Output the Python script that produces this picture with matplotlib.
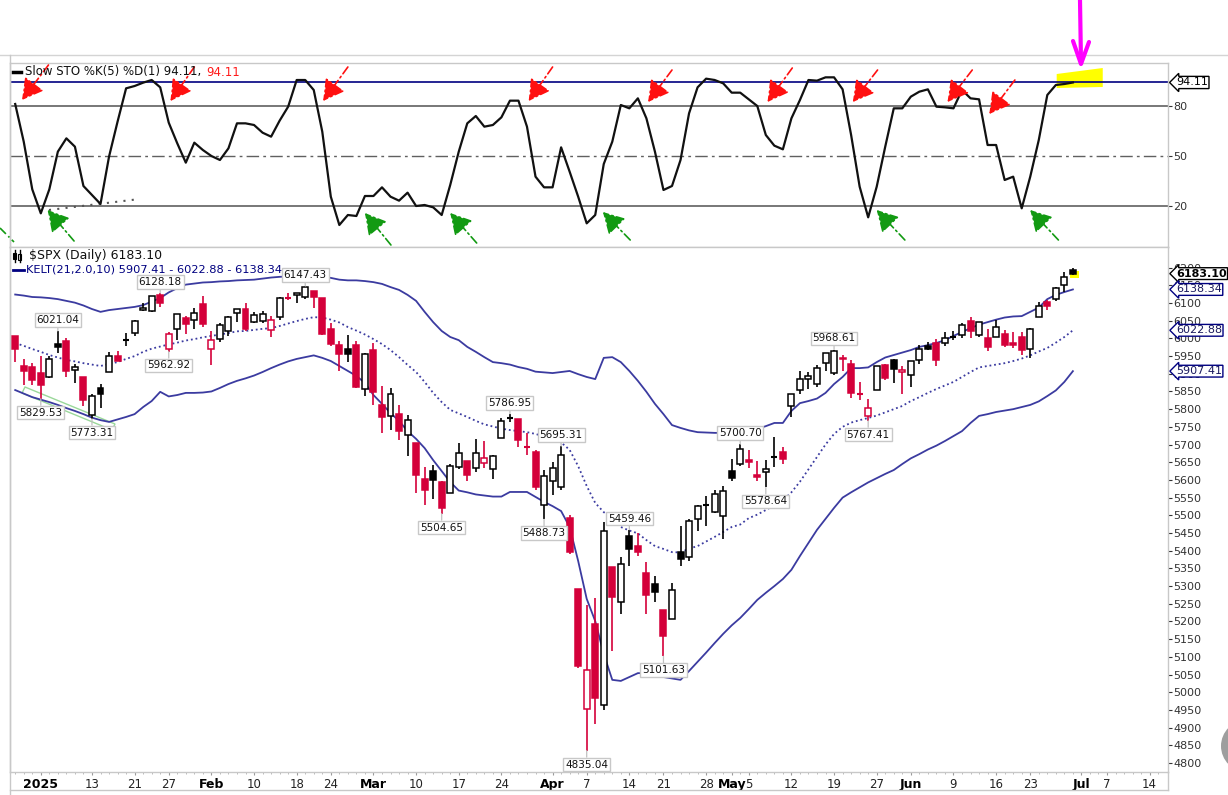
import matplotlib
matplotlib.use("Agg")
import matplotlib.pyplot as plt
from matplotlib.patches import Rectangle, Polygon, Circle
from matplotlib.lines import Line2D
from matplotlib.transforms import IdentityTransform
import numpy as np
import pandas as pd

W, H = 1228, 795

# trading days, Dec 27 2024 -> Jun 30 2025 (plus a few future July days for the axis)
holidays = ["2025-01-01", "2025-01-09", "2025-01-20", "2025-02-17",
            "2025-04-18", "2025-05-26", "2025-06-19", "2025-07-04"]
days = pd.bdate_range("2024-12-27", "2025-07-18", freq="C", holidays=holidays)
days = [d.strftime("%Y-%m-%d") for d in days]

opens = [6006.17, 5920.67, 5919.74,
         5903.26, 5891.07, 5982.81, 5993.26, 5910.66, 5890.66, 5782.23, 5859.17, 5905.21, 5950.12,
         5995.53, 6014.12, 6081.39, 6076.32, 6121.43, 5969.04, 6026.97, 6057.70, 6050.75, 6096.79,
         5969.65, 5998.14, 6020.45, 6072.22, 6083.13, 6046.40, 6049.32, 6025.08, 6060.59, 6115.52,
         6121.60, 6117.76, 6134.50, 6114.10, 6026.69, 5982.73, 5970.87, 5981.88, 5856.74,
         5968.33, 5811.98, 5781.38, 5785.87, 5726.01, 5705.37, 5603.65, 5624.84, 5594.45, 5563.85,
         5635.60, 5654.53, 5632.37, 5646.92, 5630.73, 5718.08, 5775.86, 5771.66, 5695.64, 5679.68, 5527.91,
         5597.53, 5580.76, 5492.74, 5292.14, 4953.79, 5193.57, 4965.28, 5353.15, 5255.56, 5441.96,
         5411.99, 5335.75, 5305.45, 5232.94, 5207.67, 5395.93, 5381.38, 5489.73, 5529.22, 5508.87, 5499.44,
         5625.14, 5645.23, 5655.32, 5613.03, 5621.70, 5663.00, 5679.55, 5807.67, 5854.23, 5886.55,
         5869.88, 5929.09, 5902.88, 5944.66, 5928.48, 5841.26, 5781.89, 5854.07, 5925.52, 5939.92, 5903.67,
         5896.68, 5938.56, 5978.94, 5985.67, 5987.06, 6004.60, 6009.91, 6049.38, 6009.90, 6000.56,
         6004.00, 6012.15, 5987.93, 6004.28, 5969.67, 6061.21, 6104.18, 6112.10, 6150.70, 6193.36]
highs = [6006.17, 5940.79, 5929.74,
         5949.34, 5949.34, 6021.04, 6000.68, 5927.89, 5890.66, 5842.22, 5871.92, 5960.61, 5964.69,
         6014.96, 6051.51, 6100.81, 6118.73, 6128.18, 6017.17, 6069.80, 6062.83, 6086.64, 6120.91,
         6022.13, 6042.48, 6062.86, 6084.03, 6101.28, 6073.38, 6076.28, 6063.00, 6116.91, 6127.47,
         6129.63, 6147.43, 6134.50, 6114.82, 6043.65, 5992.65, 6009.82, 5993.69, 5959.40,
         5986.09, 5865.08, 5860.59, 5812.08, 5783.01, 5705.37, 5636.30, 5642.19, 5597.78, 5645.27,
         5703.52, 5654.53, 5715.33, 5711.15, 5670.84, 5775.14, 5786.95, 5771.66, 5732.28, 5685.89, 5627.56,
         5650.57, 5695.31, 5500.41, 5292.14, 5246.57, 5267.47, 5481.34, 5353.15, 5381.46, 5459.46,
         5450.41, 5367.24, 5328.31, 5232.94, 5309.59, 5469.69, 5489.40, 5528.11, 5553.66, 5571.95, 5581.84,
         5658.91, 5700.70, 5683.29, 5654.05, 5654.97, 5720.10, 5691.68, 5844.19, 5906.63, 5904.00,
         5924.01, 5958.62, 5968.61, 5953.06, 5938.37, 5878.08, 5829.51, 5922.21, 5929.00, 5943.13, 5922.14,
         5937.40, 5981.35, 5990.48, 5999.70, 6016.87, 6021.31, 6043.01, 6059.40, 6045.43, 6026.16,
         6050.83, 6023.25, 6018.25, 6018.20, 6028.81, 6101.80, 6108.51, 6146.52, 6187.68, 6199.00]
lows = [5932.95, 5869.16, 5868.86,
        5829.53, 5888.66, 5960.01, 5890.68, 5874.78, 5809.83, 5773.31, 5802.44, 5903.63, 5935.86,
        5978.44, 6006.88, 6076.13, 6074.67, 6088.74, 5962.92, 5994.32, 6012.96, 6027.46, 6030.93,
        5923.93, 5990.87, 6007.06, 6046.83, 6019.96, 6044.84, 6042.34, 6003.00, 6051.95, 6107.62,
        6099.51, 6111.15, 6084.59, 6008.56, 5977.83, 5908.49, 5932.69, 5858.78, 5837.66,
        5810.91, 5732.59, 5742.35, 5711.64, 5666.29, 5564.02, 5528.41, 5546.09, 5504.65, 5563.85,
        5631.12, 5597.76, 5622.20, 5632.79, 5603.10, 5718.08, 5764.38, 5694.41, 5670.94, 5572.42, 5488.73,
        5558.52, 5571.48, 5390.83, 5069.90, 4835.04, 4910.42, 4948.43, 5115.27, 5220.77, 5358.02,
        5386.44, 5220.79, 5255.58, 5101.63, 5207.67, 5356.19, 5371.96, 5455.86, 5468.64, 5505.70, 5433.24,
        5597.35, 5640.16, 5634.48, 5597.56, 5578.64, 5635.34, 5644.95, 5777.98, 5843.61, 5856.29,
        5861.50, 5907.28, 5895.69, 5909.26, 5830.91, 5825.82, 5767.41, 5854.07, 5881.49, 5874.96, 5843.66,
        5861.43, 5929.00, 5966.11, 5921.20, 5978.63, 5994.18, 6000.25, 6002.32, 6003.88, 5963.21,
        6004.00, 5974.80, 5971.89, 5952.56, 5943.23, 6060.85, 6080.23, 6107.07, 6132.35, 6177.97]
closes = [5970.84, 5906.94, 5881.63,
          5868.55, 5942.47, 5975.38, 5909.03, 5918.25, 5827.04, 5836.22, 5842.91, 5949.91, 5937.34,
          5996.66, 6049.24, 6086.37, 6118.71, 6101.24, 6012.28, 6067.70, 6039.31, 6071.17, 6040.53,
          5994.57, 6037.88, 6061.48, 6083.57, 6025.99, 6066.44, 6068.50, 6051.97, 6115.07, 6114.63,
          6129.58, 6144.15, 6117.52, 6013.13, 5983.25, 5955.25, 5956.06, 5861.57, 5954.50,
          5849.72, 5778.15, 5842.63, 5738.52, 5770.20, 5614.56, 5572.07, 5599.30, 5521.52, 5638.94,
          5675.12, 5614.66, 5675.29, 5662.89, 5667.56, 5767.57, 5776.65, 5712.20, 5693.31, 5580.94, 5611.85,
          5633.07, 5670.97, 5396.52, 5074.08, 5062.25, 4982.77, 5456.90, 5268.05, 5363.36, 5405.97,
          5396.63, 5275.70, 5282.70, 5158.20, 5287.76, 5375.86, 5484.77, 5525.21, 5528.75, 5560.83, 5569.06,
          5604.14, 5686.67, 5650.38, 5606.91, 5631.28, 5663.94, 5659.91, 5844.19, 5886.55, 5892.58,
          5916.93, 5958.38, 5963.60, 5940.46, 5844.61, 5842.01, 5802.82, 5921.54, 5888.55, 5912.17, 5911.69,
          5935.94, 5970.37, 5970.81, 5939.30, 6000.36, 6005.88, 6038.81, 6022.24, 6045.26, 5976.97,
          6033.11, 5982.72, 5980.87, 5967.84, 6025.17, 6092.18, 6092.16, 6141.02, 6173.07, 6183.10]
prev_close_first = 6037.59

kelt_upper = [6124, 6121, 6117, 6116, 6114, 6111, 6106, 6101, 6093, 6083, 6075, 6080, 6083,
              6086, 6089, 6094, 6104, 6114, 6130, 6142, 6152, 6155, 6158,
              6159, 6161, 6162, 6164, 6165, 6166, 6169, 6172, 6174, 6175,
              6176, 6176, 6176, 6175, 6171, 6166, 6164, 6164, 6162, 6159,
              6154, 6145, 6137, 6123, 6106, 6075, 6046, 6021, 6004, 5995,
              5976, 5962, 5947, 5933, 5930, 5926, 5919, 5914, 5906, 5904,
              5902, 5905, 5908, 5899, 5891, 5885, 5945, 5947, 5933, 5908,
              5880, 5849, 5815, 5786, 5755, 5747, 5740, 5735, 5734, 5733,
              5733, 5733, 5733, 5738, 5744, 5752, 5761, 5761, 5795, 5817,
              5823, 5830, 5846, 5871, 5891, 5916, 5916, 5918, 5933, 5946,
              5953, 5960, 5967, 5976, 5981, 5987, 5995, 6007, 6018, 6029,
              6039, 6046, 6053, 6059, 6062, 6063, 6075, 6087, 6111, 6123,
              6131, 6138.34]
kelt_mid = [5987, 5979, 5970, 5962, 5953, 5946, 5939, 5935, 5930, 5926, 5922, 5928, 5933,
            5942, 5950, 5962, 5971, 5977, 5983, 5988, 5994, 5998, 6003,
            6007, 6011, 6015, 6020, 6021, 6024, 6027, 6029, 6035, 6042,
            6049, 6055, 6060, 6059, 6053, 6045, 6032, 6022, 6011, 5998,
            5984, 5967, 5947, 5925, 5905, 5877, 5846, 5820, 5798, 5788,
            5778, 5767, 5757, 5751, 5745, 5741, 5738, 5735, 5730, 5723,
            5716, 5706, 5685, 5639, 5583, 5535, 5509, 5490, 5467, 5457,
            5449, 5430, 5413, 5405, 5396, 5395, 5406, 5413, 5426, 5439,
            5453, 5467, 5474, 5492, 5502, 5515, 5528, 5542, 5565, 5595,
            5630, 5665, 5700, 5730, 5750, 5762, 5769, 5775, 5782, 5791,
            5800, 5809, 5823, 5834, 5846, 5857, 5867, 5877, 5891, 5905,
            5918, 5922, 5926, 5930, 5936, 5943, 5952, 5963, 5973, 5988,
            6004, 6022.88]
kelt_lower = [5854, 5844, 5834, 5827, 5820, 5812, 5803, 5795, 5786, 5776, 5769, 5764, 5771,
              5778, 5786, 5806, 5823, 5849, 5836, 5840, 5846, 5846, 5847,
              5850, 5860, 5871, 5880, 5887, 5895, 5905, 5916, 5926, 5935,
              5942, 5947, 5952, 5945, 5936, 5922, 5908, 5894, 5874, 5840,
              5815, 5789, 5767, 5738, 5716, 5690, 5656, 5625, 5594, 5570,
              5565, 5559, 5556, 5553, 5553, 5566, 5566, 5566, 5552, 5538,
              5526, 5512, 5467, 5371, 5264, 5201, 5108, 5035, 5032, 5043,
              5054, 5054, 5047, 5043, 5039, 5035, 5060, 5086, 5112, 5139,
              5165, 5189, 5210, 5235, 5261, 5281, 5300, 5320, 5346, 5385,
              5422, 5459, 5490, 5521, 5550, 5565, 5579, 5593, 5605, 5617,
              5628, 5645, 5661, 5673, 5686, 5697, 5710, 5724, 5738, 5761,
              5781, 5786, 5792, 5796, 5800, 5806, 5812, 5822, 5837, 5853,
              5877, 5907.41]

sto_k = [81.2, 58.6, 30.0, 15.6, 30.0, 52.6, 60.6, 55.6, 32.0, 26.6, 21.2, 49.6, 70.6,
         90.6, 92.0, 94.0, 95.6, 91.2, 70.0, 57.6, 46.0, 58.0, 53.6,
         50.0, 47.6, 54.6, 69.6, 69.6, 68.6, 64.0, 61.6, 71.2, 79.6,
         95.6, 95.6, 89.6, 64.6, 25.6, 8.6, 14.6, 14.0, 26.0, 26.0,
         31.2, 25.6, 23.2, 28.0, 20.0, 20.6, 19.2, 14.6, 32.6, 52.6,
         69.6, 74.0, 67.6, 68.6, 73.2, 83.2, 83.2, 67.6, 37.6, 31.2,
         31.2, 55.2, 40.6, 25.6, 9.6, 14.6, 45.2, 58.6, 80.6, 78.6,
         84.6, 72.6, 52.6, 29.6, 32.0, 47.6, 75.6, 91.2, 96.4, 95.6,
         93.6, 88.0, 88.0, 84.0, 80.0, 62.6, 56.2, 54.0, 72.6, 83.6,
         95.6, 95.2, 97.2, 97.2, 90.0, 62.6, 31.6, 13.2, 31.6, 55.6,
         78.6, 78.6, 85.6, 88.6, 90.0, 79.6, 79.2, 78.6, 89.6, 84.6,
         84.0, 56.6, 56.6, 35.6, 37.6, 18.6, 37.6, 59.6, 86.6, 92.6,
         93.2, 94.11]

# callout labels on the price chart
label_dates = ["2025-01-06", "2025-01-02", "2025-01-13", "2025-01-24", "2025-01-27", "2025-02-19",
               "2025-03-25", "2025-04-02", "2025-03-13", "2025-03-31", "2025-04-14", "2025-04-07",
               "2025-04-21", "2025-05-02", "2025-05-07", "2025-05-19", "2025-05-23"]
label_values = [6021.04, 5829.53, 5773.31, 6128.18, 5962.92, 6147.43,
                5786.95, 5695.31, 5504.65, 5488.73, 5459.46, 4835.04,
                5101.63, 5700.70, 5578.64, 5968.61, 5767.41]
label_above = [True, False, False, True, False, True,
               True, True, False, False, True, False,
               False, True, False, True, False]

tick_dates = ["2025-01-02", "2025-01-13", "2025-01-21", "2025-01-27", "2025-02-03", "2025-02-10",
              "2025-02-18", "2025-02-24", "2025-03-03", "2025-03-10", "2025-03-17", "2025-03-24",
              "2025-04-01", "2025-04-07", "2025-04-14", "2025-04-21", "2025-04-28", "2025-05-01",
              "2025-05-05", "2025-05-12", "2025-05-19", "2025-05-27", "2025-06-02", "2025-06-09",
              "2025-06-16", "2025-06-23", "2025-07-01", "2025-07-07", "2025-07-14"]
tick_labels = ["2025", "13", "21", "27", "Feb", "10", "18", "24", "Mar", "10", "17", "24",
               "Apr", "7", "14", "21", "28", "May", "5", "12", "19", "27", "Jun", "9",
               "16", "23", "Jul", "7", "14"]
bold_labels = ["2025", "Feb", "Mar", "Apr", "May", "Jun", "Jul"]

RED = "#d4003a"
NAVY = "#000080"
KCOL = "#3b3ba0"

n = len(closes)
xs = np.arange(n) - 3
xpos = {d: i - 3 for i, d in enumerate(days)}


def px(x, y):
    # figure pixel (top-left origin) -> display coords
    return x, H - y


def pix_line(xl, yl, **kw):
    pts = [px(a, b) for a, b in zip(xl, yl)]
    ln = Line2D([p[0] for p in pts], [p[1] for p in pts], transform=IdentityTransform(), **kw)
    fig.add_artist(ln)


fig = plt.figure(figsize=(W / 100, H / 100), dpi=100)
ax_sto = fig.add_axes([10 / W, 1 - 247 / H, 1158 / W, 184 / H])
ax = fig.add_axes([10 / W, 1 - 772 / H, 1158 / W, 525 / H], sharex=ax_sto)

# ---------------- stochastic panel ----------------
ax_sto.axhline(80, color="#606060", lw=1.2, zorder=2)
ax_sto.axhline(20, color="#606060", lw=1.2, zorder=2)
ax_sto.axhline(50, color="#606060", lw=1.0, ls=(0, (9, 3, 2, 3)), zorder=2)
ax_sto.axhline(94.11, color=NAVY, lw=1.2, zorder=2)
ax_sto.add_patch(Polygon([(119.1, 99.2), (124.5, 102.8), (124.5, 91.4), (119.1, 90.8)],
                         closed=True, fc="#ffff00", ec="none", zorder=1))
ax_sto.plot(xs, sto_k, color="#111111", lw=1.6, zorder=4)
ax_sto.plot([0.96, 11.6], [17.6, 24.2], color="#555555", lw=1.5, ls=(0, (1, 3)), zorder=3)

red_arrows = [((-2.2, 83.6), (0.9, 104.6)), ((15.2, 83.0), (18.0, 103.4)),
              ((33.1, 83.0), (36.0, 103.4)), ((57.2, 83.0), (60.0, 103.4)),
              ((71.2, 82.4), (74.0, 101.6)), ((85.2, 82.4), (88.1, 102.8)),
              ((95.2, 82.4), (98.1, 101.6)), ((106.3, 82.4), (109.2, 101.6)),
              ((111.2, 75.2), (114.2, 95.6))]
green_arrows = [((0.8, 17.6), (3.9, -1.0)), ((38.0, 15.8), (41.05, -3.4)),
                ((48.0, 15.8), (51.1, -2.2)), ((65.9, 16.4), (69.1, -0.4)),
                ((98.0, 17.6), (101.3, -0.4)), ((116.0, 17.6), (119.3, -0.4))]
for tip, tail in red_arrows:
    ax_sto.annotate("", xy=tip, xytext=tail,
                    arrowprops=dict(arrowstyle="-|>,head_length=0.8,head_width=0.45", color="#ff1010",
                                    lw=1.2, linestyle=(0, (5, 2, 1, 2)), mutation_scale=16,
                                    shrinkA=0, shrinkB=0), zorder=5)
for tip, tail in green_arrows:
    ax_sto.annotate("", xy=tip, xytext=tail,
                    arrowprops=dict(arrowstyle="-|>,head_length=0.8,head_width=0.45", color="#129a12",
                                    lw=1.2, linestyle=(0, (5, 2, 1, 2)), mutation_scale=16,
                                    shrinkA=0, shrinkB=0), zorder=5)

ax_sto.set_ylim(-4.6, 105.8)
ax_sto.set_yticks([20, 50, 80])
ax_sto.yaxis.tick_right()
ax_sto.tick_params(axis="y", direction="out", length=3, pad=1, labelsize=8, colors="#333333")
ax_sto.tick_params(axis="x", which="both", length=0, labelbottom=False)
ax_sto.annotate("94.11", xy=(1, 94.11), xycoords=("axes fraction", "data"), xytext=(8, 0),
                textcoords="offset pixels", va="center", ha="left", fontsize=8, color="black",
                bbox=dict(boxstyle="larrow,pad=0.1", fc="white", ec="black", lw=1),
                annotation_clip=False, zorder=6)

# ---------------- price panel ----------------
ax.plot(xs, kelt_upper, color=KCOL, lw=1.3, zorder=2)
ax.plot(xs, kelt_lower, color=KCOL, lw=1.3, zorder=2)
ax.plot(xs, kelt_mid, color=KCOL, lw=1.3, ls=(0, (1, 1.6)), zorder=2)

ax.add_patch(Polygon([(-1.85, 5862.6), (8.70, 5758.1), (8.35, 5741.1), (-2.20, 5845.7)],
                     closed=True, fill=False, ec="#9ad89a", lw=1, zorder=1))
ax.add_patch(Rectangle((120.7, 6169.8), 1.0, 21.4, fc="#ffff00", ec="none", zorder=1))

bw = 0.7
for i in range(n):
    o, h, l, c = opens[i], highs[i], lows[i], closes[i]
    pc = prev_close_first if i == 0 else closes[i - 1]
    col = "black" if c >= pc else RED
    filled = c < o
    x = xs[i]
    ax.vlines(x, l, h, color=col, lw=1.2, zorder=3)
    lo, hi = min(o, c), max(o, c)
    if hi - lo < 2.5:
        ax.hlines((o + c) / 2, x - bw / 2, x + bw / 2, color=col, lw=1.5, zorder=4)
    else:
        ax.add_patch(Rectangle((x - bw / 2, lo), bw, hi - lo, fc=col if filled else "white",
                               ec=col, lw=1.1, zorder=4))

for d, v, up in zip(label_dates, label_values, label_above):
    ax.annotate(f"{v:.2f}", xy=(xpos[d], v), xytext=(0, 8 if up else -10),
                textcoords="offset points", ha="center", va="center", fontsize=7.5, color="#111111",
                bbox=dict(boxstyle="square,pad=0.18", fc="white", ec="#c8c8c8", lw=1),
                arrowprops=dict(arrowstyle="-", color="#c0c0c0", lw=0.9, shrinkA=0, shrinkB=0),
                zorder=6)

ax.set_ylim(4774.6, 6258.3)
ax.set_xlim(-3.61, 132.15)
ax.set_yticks(range(4800, 6201, 50))
ax.yaxis.tick_right()
ax.tick_params(axis="y", direction="out", length=3, pad=1, labelsize=8, colors="#333333")

tags = [(6183.10, "black", "black", "bold"), (6138.34, NAVY, "#1a1a5e", "normal"),
        (6022.88, NAVY, "#1a1a5e", "normal"), (5907.41, NAVY, "#1a1a5e", "normal")]
for v, ec, tc, fw in tags:
    ax.annotate(f"{v:.2f}", xy=(1, v), xycoords=("axes fraction", "data"), xytext=(8, 0),
                textcoords="offset pixels", va="center", ha="left", fontsize=8, color=tc,
                fontweight=fw, bbox=dict(boxstyle="larrow,pad=0.08", fc="white", ec=ec, lw=1),
                annotation_clip=False, zorder=6)

ax.set_xticks([xpos[d] for d in tick_dates])
ax.set_xticklabels(tick_labels)
ax.set_xticks(np.arange(-3, 132), minor=True)
ax.tick_params(axis="x", which="major", direction="out", length=2, pad=2, labelsize=8.5,
               colors="#9a9a9a", labelcolor="#222222")
ax.tick_params(axis="x", which="minor", direction="out", length=1.5, colors="#b0b0b0")
for t in ax.get_xticklabels():
    if t.get_text() in bold_labels:
        t.set_fontweight("bold")
        t.set_fontsize(9)
        t.set_color("black")

for a in (ax, ax_sto):
    for s in a.spines.values():
        s.set_color("#c8c8c8")
        s.set_linewidth(1)

# ---------------- frame, legends, hand drawn marks ----------------
pix_line([0, 1228], [55, 55], color="#d4d4d4", lw=1)
pix_line([10, 10], [55, 795], color="#c8c8c8", lw=1)
pix_line([10, 1168], [790, 790], color="#c8c8c8", lw=1)
pix_line([1168, 1168], [772, 790], color="#c8c8c8", lw=1)

pix_line([13, 21], [72, 72], color="black", lw=2.5)
t1 = fig.text(25 / W, 1 - 72 / H, "Slow STO %K(5) %D(1) 94.11,", fontsize=8.5, va="center",
              color="#111111")
fig.canvas.draw()
bb = t1.get_window_extent(renderer=fig.canvas.get_renderer())
fig.text((bb.x1 + 5) / W, 1 - 72 / H, "94.11", fontsize=8.5, va="center", color="#ff1a1a")

# small candle icon
pix_line([14.5, 14.5], [250, 262], color="black", lw=1)
fig.add_artist(Rectangle(px(13, 259), 3, 6, transform=IdentityTransform(), fc="black", ec="black", lw=0.8))
pix_line([19.5, 19.5], [250, 262], color="black", lw=1)
fig.add_artist(Rectangle(px(18, 260), 3, 6, transform=IdentityTransform(), fc="white", ec="black", lw=0.8))
fig.text(29 / W, 1 - 256 / H, "$SPX (Daily) 6183.10", fontsize=9, va="center", color="#111111")
pix_line([13, 24], [270, 270], color=NAVY, lw=2)
fig.text(26 / W, 1 - 270 / H, "KELT(21,2.0,10) 5907.41 - 6022.88 - 6138.34", fontsize=8.2,
         va="center", color=NAVY)

# magenta hand-drawn arrow
pix_line([1080, 1081], [0, 63], color="#ff00ff", lw=3, solid_capstyle="round")
pix_line([1073, 1081, 1089], [41, 64, 42], color="#ff00ff", lw=3, solid_capstyle="round",
         solid_joinstyle="round")
# green stub at far left of stochastic panel
pix_line([0, 14], [228, 242], color="#129a12", lw=1.2, ls=(0, (5, 2, 1, 2)))

# grey ui button at right edge
fig.add_artist(Circle(px(1247, 746), 26, transform=IdentityTransform(), fc="#9e9e9e", ec="none"))

fig.savefig("out.png", dpi=100)
